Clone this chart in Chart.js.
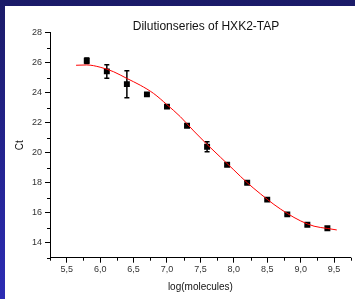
<!DOCTYPE html>
<html>
<head>
<meta charset="utf-8">
<script src="https://cdn.jsdelivr.net/npm/chart.js@4.4.0/dist/chart.umd.min.js"></script>
<style>
  html, body { margin: 0; padding: 0; }
  body {
    width: 355px; height: 299px; overflow: hidden; position: relative;
    background: linear-gradient(to bottom, #1b1b68, #2c2cb4);
  }
  #wrap { position: absolute; left: 5px; top: 6px; width: 350px; height: 293px; background: #fff; }
</style>
</head>
<body>
<div id="wrap"><canvas id="chart" width="350" height="293"></canvas></div>
<script>
// measured points
const logMolecules = [5.8, 6.1, 6.4, 6.7, 7.0, 7.3, 7.6, 7.9, 8.2, 8.5, 8.8, 9.1, 9.4];
const ctValues = [26.13, 25.42, 24.57, 23.89, 23.07, 21.8, 20.4, 19.2, 18.0, 16.87, 15.89, 15.2, 14.96];
const ctErrors = [0.18, 0.45, 0.9, 0.08, 0.08, 0.08, 0.33, 0.08, 0.08, 0.08, 0.08, 0.08, 0.08];

// fitted curve
const fitX = [5.64, 5.8, 6.0, 6.2, 6.4, 6.6, 6.8, 7.0, 7.2, 7.4, 7.6, 7.8, 8.0, 8.2, 8.4, 8.6, 8.8, 9.0, 9.2, 9.4, 9.54];
const fitY = [25.83, 25.85, 25.7, 25.4, 24.95, 24.5, 23.95, 23.2, 22.4, 21.45, 20.55, 19.7, 18.85, 18.0, 17.25, 16.55, 15.95, 15.45, 15.1, 14.95, 14.85];

const xTicks = [5.5, 6.0, 6.5, 7.0, 7.5, 8.0, 8.5, 9.0, 9.5];
const yTicks = [14, 16, 18, 20, 22, 24, 26, 28];

const extras = {
  id: "extras",
  beforeDatasetsDraw(chart) {
    const { ctx, scales: { x, y } } = chart;
    ctx.save();
    ctx.strokeStyle = "#000";
    ctx.lineWidth = 1.5;
    logMolecules.forEach((v, i) => {
      const px = x.getPixelForValue(v);
      const top = y.getPixelForValue(ctValues[i] + ctErrors[i]);
      const bot = y.getPixelForValue(ctValues[i] - ctErrors[i]);
      ctx.beginPath();
      ctx.moveTo(px, top); ctx.lineTo(px, bot);
      ctx.moveTo(px - 2.5, top); ctx.lineTo(px + 2.5, top);
      ctx.moveTo(px - 2.5, bot); ctx.lineTo(px + 2.5, bot);
      ctx.stroke();
    });
    ctx.restore();
  },
  afterDraw(chart) {
    const { ctx, chartArea: a, scales: { x, y } } = chart;
    ctx.save();
    ctx.strokeStyle = "#000";
    ctx.lineWidth = 1;
    ctx.beginPath();
    // minor ticks
    for (let v = 5.25; v <= 9.76; v += 0.5) {
      const px = Math.round(x.getPixelForValue(v)) + 0.5;
      ctx.moveTo(px, a.bottom); ctx.lineTo(px, a.bottom + 3);
    }
    for (let v = 13; v <= 27; v += 2) {
      const py = Math.round(y.getPixelForValue(v)) + 0.5;
      ctx.moveTo(a.left, py); ctx.lineTo(a.left - 3, py);
    }
    ctx.stroke();
    // title
    ctx.fillStyle = "#111";
    ctx.font = "12px 'Liberation Sans', Arial, sans-serif";
    ctx.textAlign = "center";
    ctx.textBaseline = "middle";
    ctx.fillText("Dilutionseries of HXK2-TAP", 201, 21);
    ctx.restore();
  }
};

new Chart(document.getElementById("chart"), {
  type: "scatter",
  data: {
    datasets: [
      {
        type: "line",
        data: fitX.map((v, i) => ({ x: v, y: fitY[i] })),
        borderColor: "#ff0000",
        borderWidth: 1,
        pointRadius: 0,
        fill: false,
        cubicInterpolationMode: "monotone"
      },
      {
        data: logMolecules.map((v, i) => ({ x: v, y: ctValues[i] })),
        pointStyle: "rect",
        pointRadius: 4.2,
        backgroundColor: "#000",
        borderColor: "#000",
        borderWidth: 0
      }
    ]
  },
  options: {
    responsive: false,
    animation: false,
    layout: { padding: { top: 26.7, right: 0, left: 0, bottom: 0 } },
    plugins: { legend: { display: false }, tooltip: { enabled: false } },
    scales: {
      x: {
        type: "linear",
        min: 5.25,
        max: 9.75,
        afterBuildTicks: s => { s.ticks = xTicks.map(v => ({ value: v })); },
        afterFit: s => { s.height = 41.3; },
        grid: { drawOnChartArea: false, tickLength: 5, color: "#000", lineWidth: 1 },
        border: { color: "#000", width: 1 },
        ticks: {
          padding: 1,
          color: "#333",
          font: { family: "'Liberation Sans', Arial", size: 9 },
          callback: v => v.toFixed(1).replace(".", ",")
        },
        title: {
          display: true,
          text: "log(molecules)",
          color: "#111",
          font: { family: "'Liberation Sans', Arial", size: 10 },
          padding: { top: 0, bottom: 6 }
        }
      },
      y: {
        type: "linear",
        min: 13,
        max: 28,
        afterBuildTicks: s => { s.ticks = yTicks.map(v => ({ value: v })); },
        afterFit: s => { s.width = 45; },
        grid: { drawOnChartArea: false, tickLength: 5, color: "#000", lineWidth: 1 },
        border: { color: "#000", width: 1 },
        ticks: {
          padding: 3,
          color: "#333",
          font: { family: "'Liberation Sans', Arial", size: 9 }
        },
        title: {
          display: true,
          text: "Ct",
          color: "#111",
          font: { family: "'Liberation Sans', Arial", size: 10 },
          padding: { top: 9, bottom: 0 }
        }
      }
    }
  },
  plugins: [extras]
});
</script>
</body>
</html>
